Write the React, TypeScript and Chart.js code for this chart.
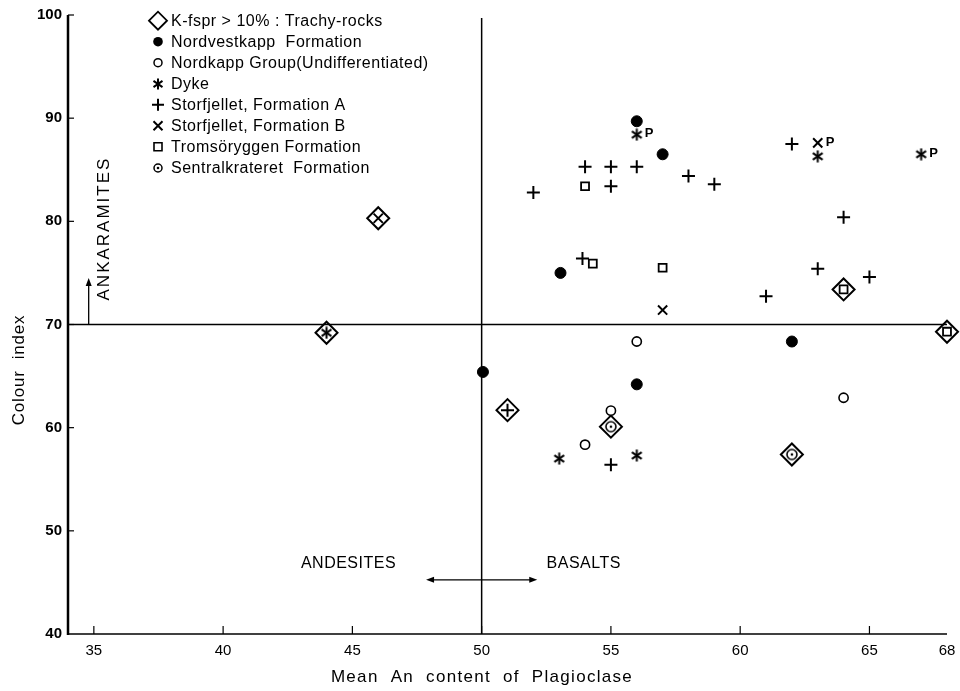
import React, { useEffect, useRef } from 'react';
import { Chart, registerables } from 'chart.js';

Chart.register(...registerables);

// ---- axis ticks ----
const xTickValues = [35, 40, 45, 50, 55, 60, 65, 68];
const yTickValues = [40, 50, 60, 70, 80, 90, 100];

// ---- series (Mean An content, Colour index) ----
const trachyX = [46, 44, 51, 55, 64, 68, 62];
const trachyY = [80.3, 69.2, 61.7, 60.1, 73.4, 69.3, 57.4];

const nordvestkappX = [56, 57, 53.05, 62, 50.05, 56];
const nordvestkappY = [89.7, 86.5, 75.0, 68.35, 65.4, 64.2];

const nordkappX = [56, 55, 54, 64];
const nordkappY = [68.35, 61.65, 58.35, 62.9];

const dykeX = [56, 63, 67, 53, 56, 44];
const dykeY = [88.4, 86.3, 86.5, 57.0, 57.3, 69.2];

const storfjelletAX = [52, 54, 55, 56, 55, 58, 59, 62, 64, 53.9, 61, 63, 65, 55, 51];
const storfjelletAY = [82.8, 85.3, 85.3, 85.3, 83.4, 84.4, 83.6, 87.5, 80.4, 76.4, 72.75, 75.4, 74.6, 56.4, 61.7];

const storfjelletBX = [63, 57, 46];
const storfjelletBY = [87.6, 71.4, 80.3];

const tromsoryggenX = [54, 54.3, 57, 64, 68];
const tromsoryggenY = [83.4, 75.9, 75.5, 73.4, 69.3];

const sentralkrateretX = [55, 62];
const sentralkrateretY = [60.1, 57.4];

// points marked "P"
const pLabelX = [56, 63, 67];
const pLabelY = [88.4, 87.6, 86.5];

const legendLabels = [
  'K-fspr > 10% : Trachy-rocks',
  'Nordvestkapp  Formation',
  'Nordkapp Group(Undifferentiated)',
  'Dyke',
  'Storfjellet, Formation A',
  'Storfjellet, Formation B',
  'Tromsöryggen Formation',
  'Sentralkrateret  Formation',
];

const FONT = '"Liberation Sans", Arial, sans-serif';

function zip(xs: number[], ys: number[]) {
  return xs.map((x, i) => ({ x, y: ys[i] }));
}

function makeAsterisk(size: number, lw: number) {
  const c = document.createElement('canvas');
  c.width = size;
  c.height = size;
  const g = c.getContext('2d')!;
  g.strokeStyle = '#000';
  g.lineWidth = lw;
  const cx = size / 2, cy = size / 2, r = size / 2 - 0.5;
  for (const a of [90, 35, 145]) {
    const rad = (a * Math.PI) / 180;
    g.beginPath();
    g.moveTo(cx - r * Math.cos(rad), cy - r * Math.sin(rad));
    g.lineTo(cx + r * Math.cos(rad), cy + r * Math.sin(rad));
    g.stroke();
  }
  return c;
}

function makeCircleDot(size: number, r: number, lw: number) {
  const c = document.createElement('canvas');
  c.width = size;
  c.height = size;
  const g = c.getContext('2d')!;
  g.strokeStyle = '#000';
  g.fillStyle = '#000';
  g.lineWidth = lw;
  g.beginPath();
  g.arc(size / 2, size / 2, r, 0, Math.PI * 2);
  g.stroke();
  g.beginPath();
  g.arc(size / 2, size / 2, 1.3, 0, Math.PI * 2);
  g.fill();
  return c;
}

function arrowHead(ctx: CanvasRenderingContext2D, x: number, y: number, dx: number, dy: number, len: number, w: number) {
  const px = -dy, py = dx;
  ctx.beginPath();
  ctx.moveTo(x, y);
  ctx.lineTo(x - dx * len + px * w, y - dy * len + py * w);
  ctx.lineTo(x - dx * len - px * w, y - dy * len - py * w);
  ctx.closePath();
  ctx.fill();
}

export default function App() {
  const ref = useRef<HTMLCanvasElement>(null);

  useEffect(() => {
    const canvas = ref.current!;
    const asterisk = makeAsterisk(13, 2);
    const asteriskSmall = makeAsterisk(12, 2);
    const circleDot = makeCircleDot(14, 5, 1.6);
    const circleDotSmall = makeCircleDot(12, 4, 1.5);

    const overlay = {
      id: 'overlay',
      beforeDatasetsDraw(chart: any) {
        const { ctx } = chart;
        const xs = chart.scales.x, ys = chart.scales.y;
        const X = (v: number) => xs.getPixelForValue(v);
        const Y = (v: number) => ys.getPixelForValue(v);
        ctx.save();
        ctx.strokeStyle = '#000';
        ctx.fillStyle = '#000';
        // y axis line
        ctx.lineWidth = 2.5;
        ctx.beginPath();
        ctx.moveTo(X(34), Y(100));
        ctx.lineTo(X(34), Y(40) + 1);
        ctx.stroke();
        // x axis line
        ctx.lineWidth = 1.6;
        ctx.beginPath();
        ctx.moveTo(X(34), Y(40));
        ctx.lineTo(X(68), Y(40));
        ctx.stroke();
        // y tick marks (inside)
        ctx.lineWidth = 1.2;
        for (const v of yTickValues) {
          if (v === 40) continue;
          ctx.beginPath();
          ctx.moveTo(X(34), Y(v));
          ctx.lineTo(X(34) + 6, Y(v));
          ctx.stroke();
        }
        // x tick marks (inside)
        for (const v of xTickValues) {
          if (v === 68) continue;
          ctx.beginPath();
          ctx.moveTo(X(v), Y(40));
          ctx.lineTo(X(v), Y(40) - 8);
          ctx.stroke();
        }
        // division lines
        ctx.lineWidth = 1.5;
        ctx.beginPath();
        ctx.moveTo(X(50), Y(99.7));
        ctx.lineTo(X(50), Y(40));
        ctx.stroke();
        ctx.beginPath();
        ctx.moveTo(X(34), Y(70));
        ctx.lineTo(X(68), Y(70));
        ctx.stroke();
        // ankaramites arrow
        ctx.lineWidth = 1.3;
        ctx.beginPath();
        ctx.moveTo(X(34.8), Y(70));
        ctx.lineTo(X(34.8), Y(74.5) + 6);
        ctx.stroke();
        arrowHead(ctx, X(34.8), Y(74.5), 0, -1, 8, 3);
        // andesites / basalts double arrow
        ctx.beginPath();
        ctx.moveTo(X(47.85) + 6, Y(45.25));
        ctx.lineTo(X(52.15) - 6, Y(45.25));
        ctx.stroke();
        arrowHead(ctx, X(47.85), Y(45.25), -1, 0, 8, 3);
        arrowHead(ctx, X(52.15), Y(45.25), 1, 0, 8, 3);

        // texts
        ctx.font = `16px ${FONT}`;
        ctx.textAlign = 'center';
        ctx.textBaseline = 'middle';
        (ctx as any).letterSpacing = '0.5px';
        ctx.fillText('ANDESITES', X(44.85), Y(46.8));
        ctx.fillText('BASALTS', X(53.95), Y(46.8));
        ctx.save();
        ctx.translate(X(35.4), Y(79.3));
        ctx.rotate(-Math.PI / 2);
        ctx.font = `17px ${FONT}`;
        (ctx as any).letterSpacing = '2px';
        ctx.fillText('ANKARAMITES', 0, 0);
        ctx.restore();

        // axis titles
        ctx.font = `17px ${FONT}`;
        (ctx as any).letterSpacing = '1.3px';
        ctx.fillText('Mean  An  content  of  Plagioclase', 482, 677);
        ctx.save();
        ctx.translate(19, 370);
        ctx.rotate(-Math.PI / 2);
        (ctx as any).letterSpacing = '0.8px';
        ctx.fillText('Colour  index', 0, 0);
        ctx.restore();
        (ctx as any).letterSpacing = '0px';
        ctx.restore();
      },
      afterDatasetsDraw(chart: any) {
        const { ctx } = chart;
        const xs = chart.scales.x, ys = chart.scales.y;
        ctx.save();
        ctx.fillStyle = '#000';
        ctx.strokeStyle = '#000';
        // P labels
        ctx.font = `bold 13px ${FONT}`;
        ctx.textAlign = 'left';
        ctx.textBaseline = 'middle';
        pLabelX.forEach((v, i) => {
          ctx.fillText('P', xs.getPixelForValue(v) + 8, ys.getPixelForValue(pLabelY[i]) - 1);
        });

        // legend
        const mx = 158, tx = 171, y0 = 20.7, dy = 21;
        ctx.font = `16px ${FONT}`;
        (ctx as any).letterSpacing = '0.5px';
        legendLabels.forEach((label, i) => {
          const y = y0 + dy * i;
          ctx.lineWidth = 1.8;
          ctx.beginPath();
          switch (i) {
            case 0:
              ctx.moveTo(mx - 9, y);
              ctx.lineTo(mx, y - 9);
              ctx.lineTo(mx + 9, y);
              ctx.lineTo(mx, y + 9);
              ctx.closePath();
              ctx.stroke();
              break;
            case 1:
              ctx.arc(mx, y, 4.8, 0, Math.PI * 2);
              ctx.fill();
              break;
            case 2:
              ctx.lineWidth = 1.5;
              ctx.arc(mx, y, 4, 0, Math.PI * 2);
              ctx.stroke();
              break;
            case 3:
              ctx.drawImage(asteriskSmall, Math.round(mx - 6), Math.round(y - 6));
              break;
            case 4:
              ctx.lineWidth = 2;
              ctx.moveTo(mx - 6, y);
              ctx.lineTo(mx + 6, y);
              ctx.moveTo(mx, y - 6);
              ctx.lineTo(mx, y + 6);
              ctx.stroke();
              break;
            case 5:
              ctx.lineWidth = 2;
              ctx.moveTo(mx - 4.5, y - 4.5);
              ctx.lineTo(mx + 4.5, y + 4.5);
              ctx.moveTo(mx + 4.5, y - 4.5);
              ctx.lineTo(mx - 4.5, y + 4.5);
              ctx.stroke();
              break;
            case 6:
              ctx.lineWidth = 1.6;
              ctx.rect(mx - 4, y - 4, 8, 8);
              ctx.stroke();
              break;
            case 7:
              ctx.drawImage(circleDotSmall, Math.round(mx - 6), Math.round(y - 6));
              break;
          }
          ctx.fillText(label, tx, y + 1);
        });
        (ctx as any).letterSpacing = '0px';
        ctx.restore();
      },
    };

    const common = { borderColor: '#000', clip: false as any };
    const chart = new Chart(canvas, {
      type: 'scatter',
      data: {
        datasets: [
          { label: legendLabels[1], data: zip(nordvestkappX, nordvestkappY), pointStyle: 'circle', pointRadius: 5.5, backgroundColor: '#000', borderWidth: 1, ...common },
          { label: legendLabels[2], data: zip(nordkappX, nordkappY), pointStyle: 'circle', pointRadius: 4.6, backgroundColor: '#fff', borderWidth: 1.6, ...common },
          { label: legendLabels[3], data: zip(dykeX, dykeY), pointStyle: asterisk as any, pointRadius: 6, backgroundColor: '#000', ...common },
          { label: legendLabels[4], data: zip(storfjelletAX, storfjelletAY), pointStyle: 'cross', pointRadius: 6.5, borderWidth: 2, backgroundColor: 'rgba(0,0,0,0)', ...common },
          { label: legendLabels[5], data: zip(storfjelletBX, storfjelletBY), pointStyle: 'crossRot', pointRadius: 6.5, borderWidth: 2, backgroundColor: 'rgba(0,0,0,0)', ...common },
          { label: legendLabels[6], data: zip(tromsoryggenX, tromsoryggenY), pointStyle: 'rect', pointRadius: 5.6, borderWidth: 1.8, backgroundColor: 'rgba(0,0,0,0)', ...common },
          { label: legendLabels[7], data: zip(sentralkrateretX, sentralkrateretY), pointStyle: circleDot as any, pointRadius: 6, backgroundColor: '#000', ...common },
          { label: legendLabels[0], data: zip(trachyX, trachyY), pointStyle: 'rectRot', pointRadius: 11, borderWidth: 2, backgroundColor: 'rgba(0,0,0,0)', ...common },
        ],
      },
      options: {
        responsive: false,
        devicePixelRatio: 1,
        animation: false,
        events: [],
        layout: { padding: { left: 0, right: 12, top: 15, bottom: 0 } },
        plugins: { legend: { display: false }, tooltip: { enabled: false } },
        scales: {
          x: {
            type: 'linear',
            min: 34,
            max: 68,
            grid: { display: false, drawTicks: false },
            border: { display: false },
            afterBuildTicks: (s: any) => {
              s.ticks = xTickValues.map((v) => ({ value: v }));
            },
            afterFit: (s: any) => {
              s.height = 57;
              s.paddingLeft = 0;
              s.paddingRight = 0;
            },
            ticks: {
              color: '#000',
              padding: 8,
              autoSkip: false,
              maxRotation: 0,
              font: { family: FONT, size: 15 },
              callback: (v: any) => String(v),
            },
          },
          y: {
            type: 'linear',
            min: 40,
            max: 100,
            grid: { display: false, drawTicks: false },
            border: { display: false },
            afterBuildTicks: (s: any) => {
              s.ticks = yTickValues.map((v) => ({ value: v }));
            },
            afterFit: (s: any) => {
              s.width = 68;
              s.paddingTop = 0;
              s.paddingBottom = 0;
            },
            ticks: {
              color: '#000',
              padding: 6,
              font: { family: FONT, size: 15, weight: 'bold' },
              callback: (v: any) => String(v),
            },
          },
        },
      },
      plugins: [overlay],
    });
    return () => chart.destroy();
  }, []);

  return (
    <div style={{ position: 'absolute', left: 0, top: 0, width: 960, height: 691, background: '#fff' }}>
      <canvas ref={ref} width={960} height={691} style={{ display: 'block' }} />
    </div>
  );
}
